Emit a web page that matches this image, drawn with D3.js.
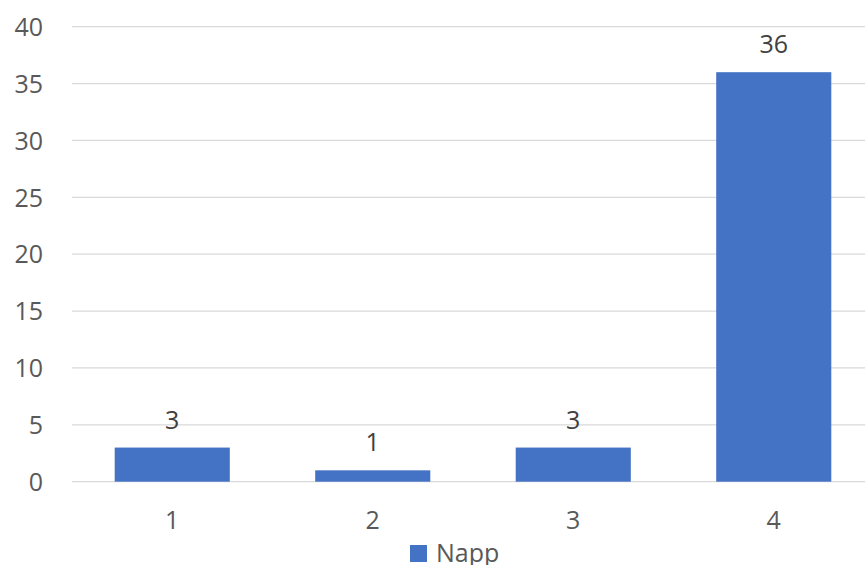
<!DOCTYPE html>
<html>
<head>
<meta charset="utf-8">
<script src="https://cdn.jsdelivr.net/npm/d3@7"></script>
<style>
  html, body { margin: 0; padding: 0; background: #fff; }
  svg { display: block; }
  text { font-family: "Open Sans", "Noto Sans", sans-serif; fill: #595959; }
</style>
</head>
<body>
<svg id="chart" width="865" height="565"></svg>
<script>
// Category labels and the single series
const categories = ["1", "2", "3", "4"];
const seriesName = "Napp";
const values = [3, 1, 3, 36];
const yTicks = [0, 5, 10, 15, 20, 25, 30, 35, 40];

const svg = d3.select("#chart");
const margin = { left: 72, top: 26.7, bottom: 83.3 };
const plotRight = 874;
const height = 565;
const barColor = "#4472C4";

const x = d3.scaleBand()
  .domain(categories)
  .range([margin.left, plotRight])
  .paddingInner(0.426)
  .paddingOuter(0.213);

const y = d3.scaleLinear()
  .domain([0, 40])
  .range([height - margin.bottom, margin.top]);

// Horizontal gridlines
svg.append("g")
  .selectAll("line")
  .data(yTicks)
  .join("line")
  .attr("x1", margin.left)
  .attr("x2", plotRight)
  .attr("y1", d => y(d))
  .attr("y2", d => y(d))
  .attr("stroke", "#d9d9d9")
  .attr("stroke-width", 1.3);

// Y axis tick labels
const yAxis = d3.axisLeft(y).tickValues(yTicks).tickSize(0).tickPadding(0);
svg.append("g")
  .attr("transform", "translate(43,0)")
  .call(yAxis)
  .call(g => g.select(".domain").remove())
  .selectAll("text")
  .attr("font-size", 25)
  .attr("dy", "0.35em")
  .attr("fill", "#595959")
  .style("font-family", "'Open Sans', sans-serif");

// Bars
svg.append("g")
  .selectAll("rect")
  .data(values)
  .join("rect")
  .attr("x", (d, i) => x(categories[i]))
  .attr("width", x.bandwidth())
  .attr("y", d => y(d))
  .attr("height", d => y(0) - y(d))
  .attr("fill", barColor);

// Value labels above bars
svg.append("g")
  .selectAll("text")
  .data(values)
  .join("text")
  .attr("x", (d, i) => x(categories[i]) + x.bandwidth() / 2)
  .attr("y", d => y(d) - 19)
  .attr("text-anchor", "middle")
  .attr("font-size", 25)
  .style("fill", "#404040")
  .text(d => d);

// X axis category labels
const xAxis = d3.axisBottom(x).tickSize(0).tickPadding(0);
svg.append("g")
  .attr("transform", `translate(0,${y(0)})`)
  .call(xAxis)
  .call(g => g.select(".domain").remove())
  .selectAll("text")
  .attr("font-size", 25)
  .attr("dy", "1.9em")
  .attr("y", 0)
  .attr("fill", "#595959")
  .style("font-family", "'Open Sans', sans-serif");

// Legend
const legend = svg.append("g").attr("transform", "translate(410,545)");
legend.append("rect")
  .attr("width", 17)
  .attr("height", 17)
  .attr("fill", barColor);
legend.append("text")
  .attr("x", 26)
  .attr("y", 16.5)
  .attr("font-size", 25)
  .text(seriesName);
</script>
</body>
</html>
